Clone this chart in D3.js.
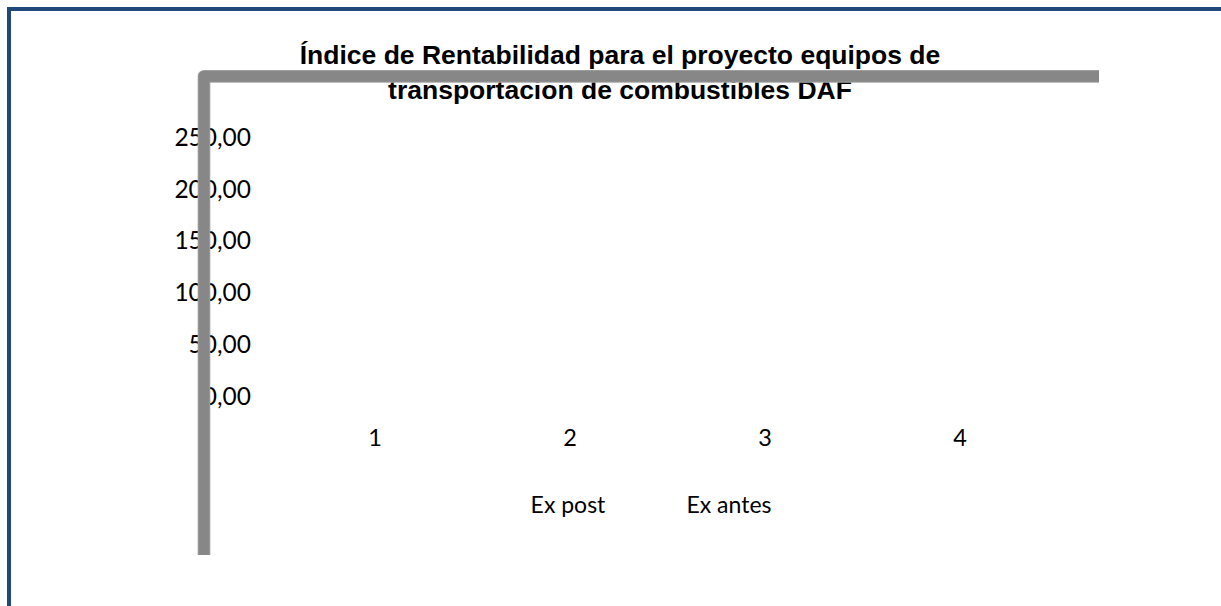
<!DOCTYPE html>
<html>
<head>
<meta charset="utf-8">
<script src="https://cdn.jsdelivr.net/npm/d3@7"></script>
<style>
	html, body { margin: 0; padding: 0; background: #fff; overflow: hidden; }
</style>
</head>
<body>
<div id="chart-placeholder"></div>
<script>

// chart data
let categories = ["1", "2", "3", "4"];
let seriesNames = ["Ex post", "Ex antes"];
let exPost = [0, 0, 0, 0];
let exAntes = [0, 0, 0, 0];
let yTicks = [0, 50, 100, 150, 200, 250];
let titleLines = ["Índice de Rentabilidad para el proyecto equipos de", "transportacion de combustibles DAF"];

function drawChart() {
	let width = 1221;
	let height = 606;
	let labelFont = "Lato, 'Open Sans', sans-serif";

	let svg = d3.select("#chart-placeholder")
		.append("svg")
		.attr("width", width)
		.attr("height", height);

	// outer blue frame (only top and left edges are in view)
	svg.append("rect")
		.attr("x", 9)
		.attr("y", 9)
		.attr("width", width + 20)
		.attr("height", height + 20)
		.attr("fill", "none")
		.attr("stroke", "#1f497d")
		.attr("stroke-width", 4);

	// scales
	let xScale = d3.scaleBand().domain(categories).range([277.5, 1057.5]);
	let xInner = d3.scaleBand().domain(seriesNames).range([0, xScale.bandwidth()]).padding(0.2);
	let yScale = d3.scaleLinear().domain([0, 250]).range([395.5, 136.5]);

	let locale = d3.formatLocale({decimal: ",", thousands: ".", grouping: [3], currency: ["", "€"]});
	let fmt = locale.format(".2f");

	// title
	svg.append("text")
		.attr("x", 620)
		.attr("y", 64)
		.attr("text-anchor", "middle")
		.style("font-family", "'Liberation Sans', Arial, sans-serif")
		.style("font-weight", "bold")
		.style("font-size", "26.5px")
		.selectAll("tspan")
		.data(titleLines)
		.join("tspan")
		.attr("x", 620)
		.attr("dy", (d, i) => i == 0 ? 0 : 35)
		.text(d => d);

	// y axis labels
	let yAxis = svg.append("g")
		.attr("transform", "translate(251, 0)")
		.call(d3.axisLeft(yScale).tickValues(yTicks).tickFormat(fmt).tickSize(0).tickPadding(0));
	yAxis.select(".domain").remove();
	yAxis.selectAll("text")
		.attr("dy", "0.36em")
		.style("font-family", labelFont)
		.style("font-size", "24.5px")
		.attr("fill", "#000");

	// x axis labels
	let xAxis = svg.append("g")
		.attr("transform", "translate(0, 446)")
		.call(d3.axisBottom(xScale).tickSize(0).tickPadding(0));
	xAxis.select(".domain").remove();
	xAxis.selectAll("text")
		.attr("dy", 0)
		.style("font-family", labelFont)
		.style("font-size", "23.5px")
		.attr("fill", "#000");

	// bars (all values are zero, so nothing shows)
	let seriesData = [exPost, exAntes];
	seriesData.forEach((values, s) => {
		svg.append("g")
			.selectAll("rect")
			.data(values)
			.join("rect")
			.attr("x", (d, i) => xScale(categories[i]) + xInner(seriesNames[s]))
			.attr("width", xInner.bandwidth())
			.attr("y", d => yScale(d))
			.attr("height", d => yScale(0) - yScale(d))
			.attr("fill", "none");
	});

	// legend
	let legendX = d3.scalePoint().domain(seriesNames).range([568, 729]);
	svg.append("g")
		.selectAll("text")
		.data(seriesNames)
		.join("text")
		.attr("x", d => legendX(d))
		.attr("y", 513)
		.attr("text-anchor", "middle")
		.style("font-family", labelFont)
		.style("font-size", "23px")
		.text(d => d);

	// thick grey plot border, drawn on top
	let framePts = [[204, 555], [204, 76.3], [1099, 76.3]];
	let frameLine = d3.line();
	svg.append("path")
		.attr("d", frameLine(framePts))
		.attr("fill", "none")
		.attr("stroke", "#a6a6a6")
		.attr("stroke-width", 12.7)
		.attr("stroke-linejoin", "round");
	svg.append("path")
		.attr("d", frameLine(framePts))
		.attr("fill", "none")
		.attr("stroke", "#878787")
		.attr("stroke-width", 11)
		.attr("stroke-linejoin", "round");
}

drawChart();
</script>
</body>
</html>
